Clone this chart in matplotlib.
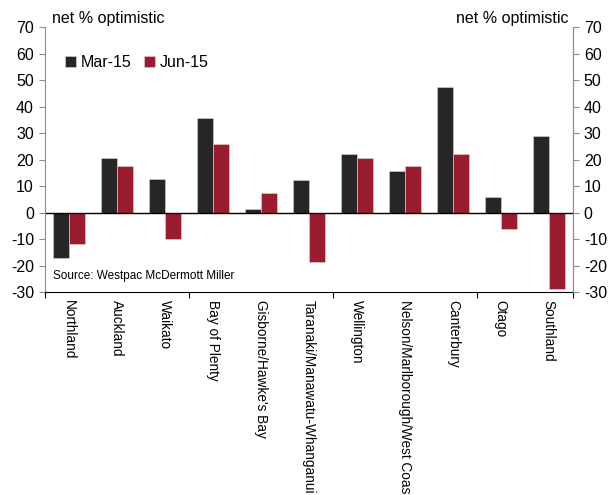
import numpy as np
import matplotlib
matplotlib.use('Agg')
import matplotlib.pyplot as plt

plt.rcParams['font.family'] = ['Liberation Sans', 'DejaVu Sans']
plt.rcParams['axes.unicode_minus'] = False

regions = ['Northland', 'Auckland', 'Waikato', 'Bay of Plenty', "Gisborne/Hawke's Bay",
           'Taranaki/Manawatu-Whanganui', 'Wellington', 'Nelson/Marlborough/West Coast',
           'Canterbury', 'Otago', 'Southland']
mar15 = [-17, 20.7, 12.8, 35.8, 1.4, 12.4, 22.3, 15.7, 47.6, 5.8, 28.8]
jun15 = [-12, 17.6, -10, 25.8, 7.4, -18.8, 20.8, 17.6, 22.3, -6.2, -28.8]

black = '#262626'
red = '#9b1b30'
grey = '#8c8c8c'

fig = plt.figure(figsize=(6.08, 4.95), dpi=100)
ax = fig.add_axes([0.074, 0.41, 0.868, 0.535])

x = np.arange(len(regions))
w = 1 / 3
ax.bar(x - w / 2, mar15, w, color=black, edgecolor='#d9d9d9', linewidth=0.4, label='Mar-15')
ax.bar(x + w / 2, jun15, w, color=red, edgecolor='#d9d9d9', linewidth=0.4, label='Jun-15')
ax.axhline(0, color='black', linewidth=1)

ax.set_xlim(-0.5, len(regions) - 0.5)
ax.set_ylim(-30, 70)
ax.set_yticks(range(-30, 71, 10))
ax.tick_params(axis='y', labelsize=11.5, length=4, color=grey, pad=4)

ax.set_xticks([-0.5, 2.5, 5.5, 8.5, 10.5])
ax.set_xticklabels([])
ax.set_xticks(x, minor=True)
ax.set_xticklabels(regions, minor=True, rotation=270, fontsize=9.8, va='top', ha='center')
ax.tick_params(axis='x', which='major', length=4, color='black', direction='out')
ax.tick_params(axis='x', which='minor', length=0, pad=6)

ax.spines['top'].set_visible(False)
ax.spines['left'].set_color(grey)
ax.spines['right'].set_color(grey)
ax.spines['bottom'].set_color('black')

ax2 = ax.twinx()
ax2.set_ylim(-30, 70)
ax2.set_yticks(range(-30, 71, 10))
ax2.tick_params(axis='y', labelsize=11.5, length=4, color=grey, pad=4)
for s in ['top', 'left', 'bottom']:
    ax2.spines[s].set_visible(False)
ax2.spines['right'].set_color(grey)

fig.text(0.085, 0.962, 'net % optimistic', fontsize=11.5, va='center', ha='left')
fig.text(0.935, 0.962, 'net % optimistic', fontsize=11.5, va='center', ha='right')

ax.legend(loc='upper left', bbox_to_anchor=(0.01, 0.95), ncol=2, frameon=False,
          fontsize=11.5, handlelength=0.7, handleheight=0.7, handletextpad=0.3,
          columnspacing=0.8)

ax.text(0.015, 0.06, 'Source: Westpac McDermott Miller', transform=ax.transAxes,
        fontsize=8.5, va='center', ha='left')

fig.savefig('out.png', dpi=100)
